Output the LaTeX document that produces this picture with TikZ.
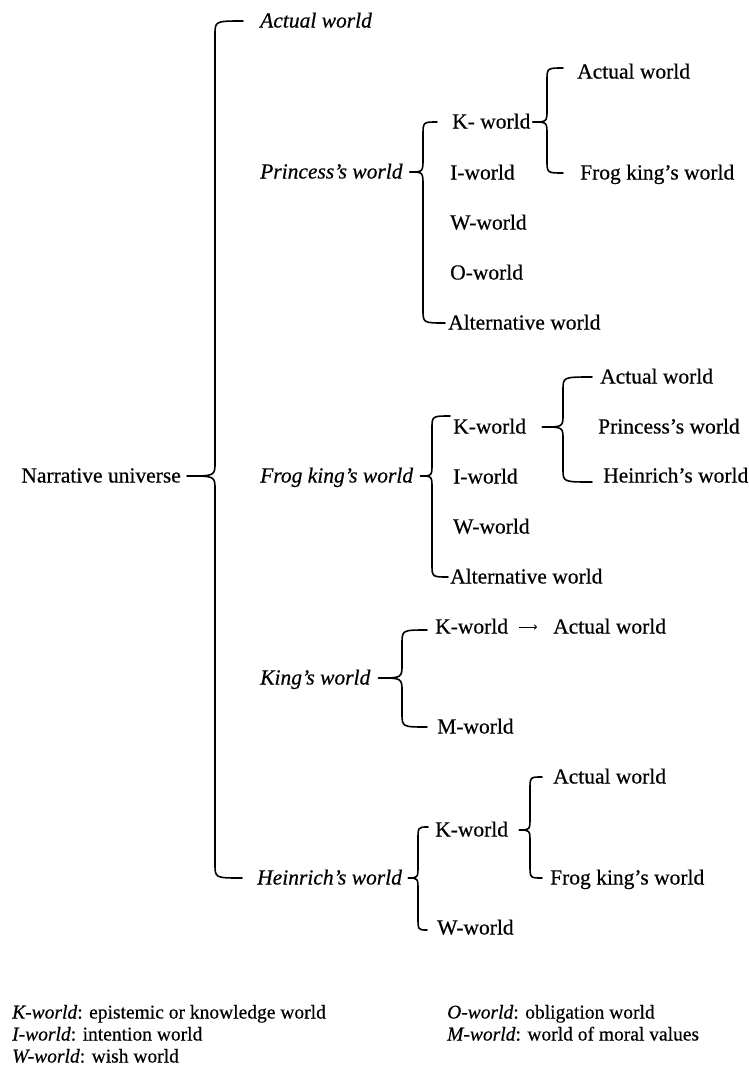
\documentclass[tikz,border=0pt]{standalone}
\usepackage{fontspec}
\setmainfont{Liberation Serif}[FakeBold=0.5]
\usetikzlibrary{calc,arrows.meta}
\newcommand\wbrace[5]{\draw[brc] let \p1=#1, \p2=#2, \p3=#3 in
  (\p1) .. controls (#4,\y1) .. (#4,\y1-#5) -- (#4,\y3+#5)
  .. controls (#4,\y3) .. (\p3)
  .. controls (#4,\y3) .. (#4,\y3-#5) -- (#4,\y2+#5)
  .. controls (#4,\y2) .. (\p2);}
\begin{document}
\begin{tikzpicture}[x=1bp,y=-1bp,
  lbl/.style={anchor=west, inner sep=0pt, font=\fontsize{21.5bp}{24bp}\selectfont, text height=14bp, text depth=1bp},
  it/.style={lbl, font=\fontsize{21.5bp}{24bp}\selectfont\itshape},
  leg/.style={lbl, font=\fontsize{19.5bp}{22bp}\selectfont},
  brc/.style={line width=1.6bp, line cap=round, line join=round},
  arr/.style={line width=1bp, -{To[length=3bp,width=5bp]}}]
\useasboundingbox (0,0) rectangle (749,1079);
% level 0/1
\node[lbl, anchor=east] (root) at (181,476) {Narrative universe};
\node[it] (A0) at (260,21) {Actual world};
\node[it] (P) at (260,172) {Princess’s world};
\node[it] (F) at (260,476) {Frog king’s world};
\node[it] (K) at (260,678) {King’s world};
\node[it] (H) at (257,878) {Heinrich’s world};
% Princess
\node[lbl] (PK) at (452,122) {K- world};
\node[lbl] (PI) at (450,173) {I-world};
\node[lbl] (PW) at (450,223) {W-world};
\node[lbl] (PO) at (450,273) {O-world};
\node[lbl] (PA) at (448,323) {Alternative world};
\node[lbl] (PKA) at (577,72) {Actual world};
\node[lbl] (PKF) at (580,173) {Frog king’s world};
% Frog king
\node[lbl] (FK) at (453,427) {K-world};
\node[lbl] (FI) at (453,477) {I-world};
\node[lbl] (FW) at (453,527) {W-world};
\node[lbl] (FA) at (450,577) {Alternative world};
\node[lbl] (FKA) at (600,377) {Actual world};
\node[lbl] (FKP) at (598,427) {Princess’s world};
\node[lbl] (FKH) at (603,476) {Heinrich’s world};
% King
\node[lbl] (KK) at (435,627) {K-world};
\node[lbl] (KKA) at (553,627) {Actual world};
\node[lbl] (KM) at (437,727) {M-world};
% Heinrich
\node[lbl] (HK) at (435,830) {K-world};
\node[lbl] (HW) at (437,928) {W-world};
\node[lbl] (HKA) at (553,777) {Actual world};
\node[lbl] (HKF) at (550,878) {Frog king’s world};
% legend
\node[leg] (L1) at (12,1012) {\textit{K-world}: epistemic or knowledge world};
\node[leg] (L2) at (12,1034) {\textit{I-world}: intention world};
\node[leg] (L3) at (12,1056) {\textit{W-world}: wish world};
\node[leg] (L4) at (447,1012) {\textit{O-world}: obligation world};
\node[leg] (L5) at (447,1034) {\textit{M-world}: world of moral values};
% braces
\wbrace{([xshift=-17bp]A0.west)}{([xshift=-15bp]H.west)}{([xshift=6bp]root.east)}{215bp}{14bp}
\wbrace{([xshift=-15bp]PK.west)}{([xshift=-3bp]PA.west)}{([xshift=7bp]P.east)}{423bp}{14bp}
\wbrace{([xshift=-14bp,yshift=4bp]PKA.west)}{([xshift=-17bp]PKF.west)}{([xshift=2bp]PK.east)}{547bp}{13bp}
\wbrace{([xshift=-3bp,yshift=11bp]FK.west)}{([xshift=-2bp]FA.west)}{([xshift=7bp]F.east)}{432bp}{13bp}
\wbrace{([xshift=-8bp]FKA.west)}{([xshift=-11bp,yshift=-6bp]FKH.west)}{([xshift=16bp]FK.east)}{563bp}{13bp}
\wbrace{([xshift=-8bp,yshift=-3bp]KK.west)}{([xshift=-10bp]KM.west)}{([xshift=8bp]K.east)}{402bp}{14bp}
\wbrace{([xshift=-7bp,yshift=3bp]HK.west)}{([xshift=-10bp,yshift=-2bp]HW.west)}{([xshift=6bp]H.east)}{418bp}{13bp}
\wbrace{([xshift=-11bp]HKA.west)}{([xshift=-8bp]HKF.west)}{([xshift=11bp]HK.east)}{530bp}{13bp}
% arrow
\draw[arr] ([xshift=11bp]KK.east) -- ([xshift=-16bp]KKA.west);
\end{tikzpicture}
\end{document}
